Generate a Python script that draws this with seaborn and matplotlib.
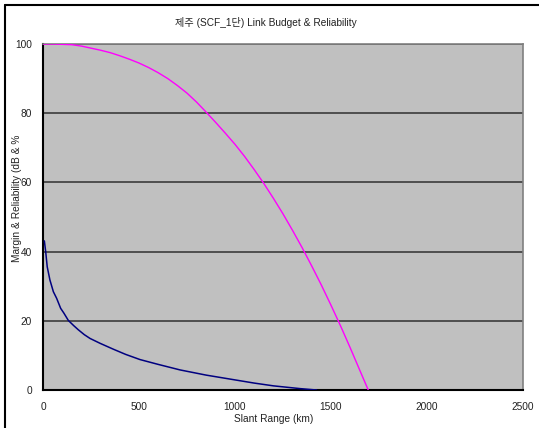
import numpy as np
import pandas as pd
import matplotlib
matplotlib.use("Agg")
import matplotlib.pyplot as plt
from matplotlib.lines import Line2D
import seaborn as sns

# Reliability (%) versus slant range (km)
rel_range = [0, 50, 100, 150, 200, 250, 300, 350, 400, 450, 500, 550, 600,
             650, 700, 750, 800, 850, 900, 950, 1000, 1050, 1100, 1150, 1200,
             1250, 1300, 1350, 1400, 1450, 1500, 1550, 1600, 1650, 1694]
rel_value = [100, 100, 99.9, 99.8, 99.4, 98.8, 98.2, 97.5, 96.6, 95.6, 94.5,
             93.2, 91.7, 90.0, 88.0, 85.8, 83.2, 80.3, 77.3, 74.2, 71.0, 67.5,
             63.7, 59.7, 55.4, 50.9, 46.1, 41.1, 35.8, 30.3, 24.5, 18.5, 12.2,
             5.7, 0]

# Link margin (dB) versus slant range (km)
margin_range = [7, 14, 22, 36, 54, 71, 92, 109, 132, 160, 184, 215, 245, 297,
                366, 430, 505, 600, 714, 850, 1002, 1100, 1200, 1339, 1425]
margin_value = [43.1, 40, 35.6, 31.8, 28.4, 26.5, 23.6, 22.2, 20.1, 18.6,
                17.4, 16.0, 14.9, 13.5, 11.8, 10.3, 8.8, 7.4, 5.8, 4.3, 2.9,
                2.0, 1.2, 0.4, 0]

x_ticks = [0, 500, 1000, 1500, 2000, 2500]
y_ticks = [0, 20, 40, 60, 80, 100]

title = "제주 (SCF_1단) Link Budget & Reliability"
x_label = "Slant Range (km)"
y_label = "Margin & Reliability (dB & %"

sns.set_theme(style="white")
plt.rcParams["font.family"] = ["Liberation Sans", "Noto Sans CJK KR", "DejaVu Sans"]

rel_df = pd.DataFrame({"range": rel_range, "value": rel_value})
margin_df = pd.DataFrame({"range": margin_range, "value": margin_value})

fig = plt.figure(figsize=(5.39, 4.28), dpi=100)
fig.patch.set_facecolor("white")
ax = fig.add_axes([43 / 539, 38 / 428, 480 / 539, 346 / 428])
ax.set_facecolor("#C0C0C0")

sns.lineplot(data=rel_df, x="range", y="value", ax=ax, color="#FF00FF",
             linewidth=1.0, sort=False, zorder=3)
sns.lineplot(data=margin_df, x="range", y="value", ax=ax, color="#000080",
             linewidth=1.1, sort=False, zorder=3)

ax.set_xlim(0, 2500)
ax.set_ylim(0, 100)
ax.set_xticks(x_ticks)
ax.set_yticks(y_ticks)
ax.set_xticklabels([str(t) for t in x_ticks], fontsize=7.3, color="#222222")
ax.set_yticklabels([str(t) for t in y_ticks], fontsize=7.3, color="#222222")
ax.tick_params(axis="x", direction="in", length=3.5, width=1, color="black", pad=9)
ax.tick_params(axis="y", direction="in", length=0, pad=8)

ax.yaxis.grid(True, color="#303030", linewidth=1.1)
ax.xaxis.grid(False)
ax.set_axisbelow(True)

for side in ("left", "bottom"):
    ax.spines[side].set_color("black")
    ax.spines[side].set_linewidth(1.5)
for side in ("top", "right"):
    ax.spines[side].set_color("#808080")
    ax.spines[side].set_linewidth(1.2)

ax.set_xlabel(x_label, fontsize=7.3, color="#222222")
ax.xaxis.set_label_coords(0.481, -0.07)
ax.set_ylabel(y_label, fontsize=7.3, color="#222222")
ax.yaxis.set_label_coords(-0.043, 0.555)

fig.text(266 / 539, 1 - 22 / 428, title, ha="center", va="center",
         fontsize=7.3, color="#222222")

# Outer chart border (top and left edges)
fig.add_artist(Line2D([4.5 / 539, 1.0], [1 - 5 / 428, 1 - 5 / 428],
                      transform=fig.transFigure, color="black", linewidth=1.5))
fig.add_artist(Line2D([4.5 / 539, 4.5 / 539], [0, 1 - 5 / 428],
                      transform=fig.transFigure, color="black", linewidth=1.5))

fig.savefig("out.png", dpi=100)
